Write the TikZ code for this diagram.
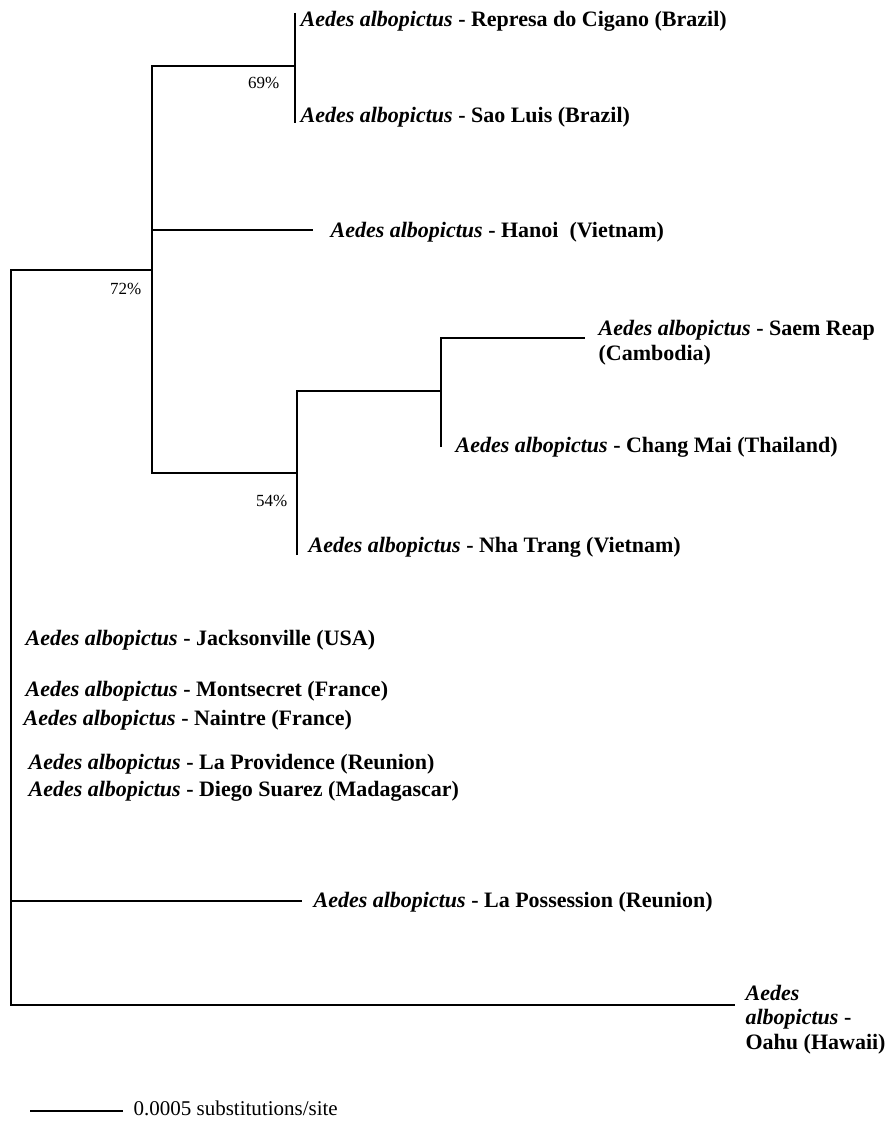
\documentclass[tikz,border=0pt]{standalone}
\usepackage{fontspec}
\setmainfont{Liberation Serif}
\usetikzlibrary{positioning}

\newcommand{\aedes}{\textbf{\textit{Aedes albopictus}}}

\begin{document}
\begin{tikzpicture}[x=1pt,y=-1pt,line width=1.2pt,
    leaf/.style={anchor=base west,inner sep=0pt,font=\fontsize{22}{24.5}\selectfont\bfseries,align=left},
    boot/.style={anchor=base east,inner sep=0pt,font=\fontsize{17}{20}\selectfont},
    scaletext/.style={anchor=base west,inner sep=0pt,font=\fontsize{21}{24}\selectfont}]
  \useasboundingbox (0,0) rectangle (885,1121);

  % Internal nodes
  \coordinate (root) at (11,270);
  \coordinate (rootEnd) at (11,1005);
  \coordinate (n72) at (152,270);
  \coordinate (n69) at (295,66);
  \coordinate (n54) at (297,473);
  \coordinate (nSR) at (441,391);

  % Branch tips
  \coordinate (tRep) at (295,13);
  \coordinate (tSao) at (295,123);
  \coordinate (tHanoi) at (313,230);
  \coordinate (tSaem) at (585,338);
  \coordinate (tChang) at (441,447);
  \coordinate (tNha) at (297,555);
  \coordinate (tPoss) at (302,901);
  \coordinate (tOahu) at (735,1005);

  % Draw tree
  \draw (n72) -- (root) -- (rootEnd) -- (tOahu);
  \draw (root) |- (tPoss);
  \draw (n72) |- (n69);
  \draw (tRep) -- (tSao);
  \draw (n72) |- (tHanoi);
  \draw (n72) |- (n54);
  \draw (tNha) |- (nSR);
  \draw (tChang) |- (tSaem);

  % Draw leaf labels
  \node[leaf] (represa) at (300,27) {\aedes{} - Represa do Cigano (Brazil)};
  \node[leaf] (saoluis) at (300,123) {\aedes{} - Sao Luis (Brazil)};
  \node[leaf] (hanoi) at (330,237) {\aedes{} - Hanoi\ \ (Vietnam)};
  \node[leaf] (saemreap) at (598,360) {\aedes{} - Saem Reap\\(Cambodia)};
  \node[leaf] (changmai) at (455,452) {\aedes{} - Chang Mai (Thailand)};
  \node[leaf] (nhatrang) at (308,552) {\aedes{} - Nha Trang (Vietnam)};
  \node[leaf] (jackson) at (25,645) {\aedes{} - Jacksonville (USA)};
  \node[leaf] (montsecret) at (25,696) {\aedes{} - Montsecret (France)};
  \node[leaf] (naintre) at (23,725) {\aedes{} - Naintre (France)};
  \node[leaf] (providence) at (28,769) {\aedes{} - La Providence (Reunion)};
  \node[leaf] (diego) at (28,796) {\aedes{} - Diego Suarez (Madagascar)};
  \node[leaf] (possession) at (313,907) {\aedes{} - La Possession (Reunion)};
  \node[leaf] (oahu) at (745,1049) {\textit{Aedes}\\\textit{albopictus} -\\Oahu (Hawaii)};

  % Draw bootstrap values
  \node[boot] (b69) at (280,89) {69\%};
  \node[boot] (b72) at (142,294) {72\%};
  \node[boot] (b54) at (288,506) {54\%};

  % Draw scale bar
  \coordinate (sbLeft) at (30,1111);
  \coordinate (sbRight) at (123,1111);
  \draw (sbLeft) -- (sbRight);
  \node[scaletext] (sblabel) at (133,1115) {0.0005 substitutions/site};
\end{tikzpicture}
\end{document}
